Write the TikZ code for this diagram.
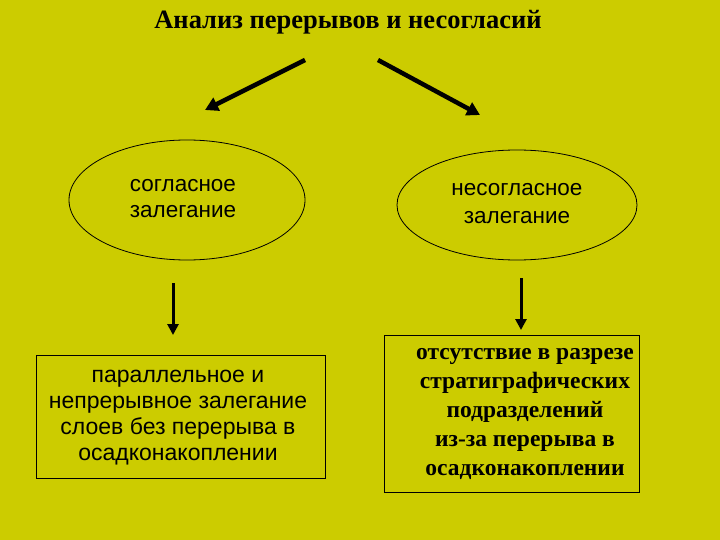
\documentclass[tikz,border=0pt]{standalone}
\usepackage{fontspec}
\setmainfont{Liberation Serif}
\setsansfont{Liberation Sans}
\usetikzlibrary{arrows.meta}
\definecolor{bg}{HTML}{CCCC00}
\begin{document}
\begin{tikzpicture}[x=1pt,y=-1pt,
  bigarrow/.style={line width=4.5pt,-{Triangle[length=13pt,width=14pt]}},
  downarrow/.style={line width=3pt,-{Triangle[length=11pt,width=11pt]}}]
\fill[bg] (0,0) rectangle (720,540);
\useasboundingbox (0,0) rectangle (720,540);
\node[font=\bfseries\fontsize{26.5}{30}\selectfont] (title) at (348,22) {Анализ перерывов и несогласий};
\coordinate (a1) at (305,60); \coordinate (a2) at (205,110);
\coordinate (b1) at (378,60); \coordinate (b2) at (480,115);
\draw[bigarrow] (a1) -- (a2);
\draw[bigarrow] (b1) -- (b2);
\draw[line width=0.8pt] (187,200) ellipse [x radius=118, y radius=60];
\node[font=\sffamily\fontsize{22.5}{26}\selectfont,align=left] (l) at (183,199) {согласное\\ залегание};
\draw[line width=0.8pt] (517,205) ellipse [x radius=120, y radius=55];
\node[font=\sffamily\fontsize{22.5}{28}\selectfont,align=center] (r) at (517,204) {несогласное\\залегание};
\coordinate (c1) at (173,283); \coordinate (c2) at (173,335);
\coordinate (d1) at (521,278); \coordinate (d2) at (521,330);
\draw[downarrow] (c1) -- (c2);
\draw[downarrow] (d1) -- (d2);
\draw[line width=0.8pt] (36,355) rectangle (325,478);
\node[font=\sffamily\fontsize{23}{26}\selectfont,align=center] (lb) at (178,418) {параллельное и\\непрерывное залегание\\слоев без перерыва в\\осадконакоплении};
\draw[line width=0.8pt] (384,335) rectangle (639,492);
\node[font=\bfseries\fontsize{23.5}{29}\selectfont,align=center] (rb) at (525,414) {отсутствие в разрезе\\стратиграфических\\подразделений\\из-за перерыва в\\осадконакоплении};
\end{tikzpicture}
\end{document}
